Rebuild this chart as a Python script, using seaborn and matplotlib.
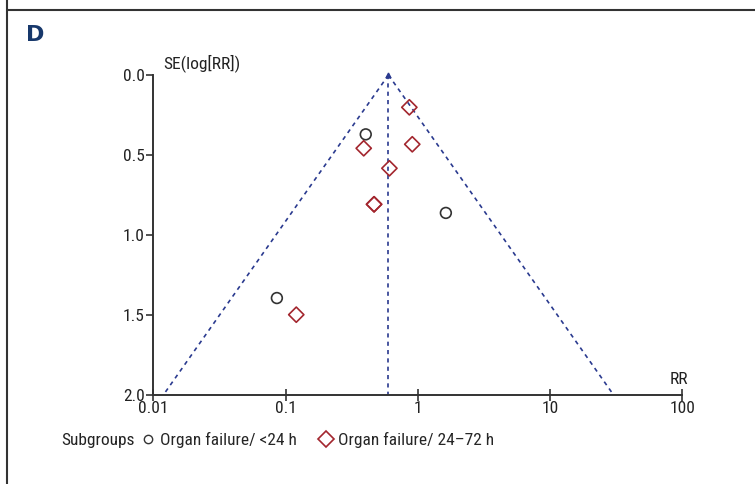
import numpy as np
import pandas as pd
import matplotlib
matplotlib.use("Agg")
import matplotlib.pyplot as plt
from matplotlib.lines import Line2D
from matplotlib import font_manager as fm
import seaborn as sns

# ---- data ----
groups = ["Organ failure/ <24 h", "Organ failure/ 24\u201372 h"]
rr_lt24 = [0.404, 1.63, 0.086]
se_lt24 = [0.371, 0.862, 1.394]
rr_24_72 = [0.863, 0.908, 0.390, 0.610, 0.467, 0.467, 0.1205]
se_24_72 = [0.202, 0.433, 0.458, 0.583, 0.808, 0.808, 1.498]
pooled_rr = 0.60
x_ticks = [0.01, 0.1, 1, 10, 100]
x_ticklabels = ["0.01", "0.1", "1", "10", "100"]
y_ticks = [0.0, 0.5, 1.0, 1.5, 2.0]
y_ticklabels = ["0.0", "0.5", "1.0", "1.5", "2.0"]

df = pd.DataFrame({
    "RR": rr_lt24 + rr_24_72,
    "SE": se_lt24 + se_24_72,
    "Subgroup": [groups[0]] * len(rr_lt24) + [groups[1]] * len(rr_24_72),
})

sns.set_theme(style="white")


# ---- pick a condensed sans font if one is installed ----
def _is_condensed(f):
    st = f.stretch
    if isinstance(st, str):
        return st in ("condensed", "semi-condensed")
    try:
        return int(st) <= 500 and int(st) >= 300
    except Exception:
        return False


font_family = "Liberation Sans"
font_stretch = "normal"
pref = ["Liberation Sans Narrow", "Roboto Condensed", "Open Sans Condensed",
        "Noto Sans Condensed", "DejaVu Sans Condensed"]
names = {f.name for f in fm.fontManager.ttflist}
found = False
for p in pref:
    if p in names:
        font_family, found = p, True
        break
if not found:
    for base in ["Noto Sans", "Open Sans", "DejaVu Sans", "Roboto", "Lato", "Liberation Sans"]:
        ents = [f for f in fm.fontManager.ttflist
                if f.name == base and _is_condensed(f) and f.style == "normal"
                and str(f.weight) in ("400", "normal", "regular", "book")]
        if ents:
            font_family, font_stretch, found = base, ents[0].stretch, True
            break

plt.rcParams["font.family"] = [font_family, "DejaVu Sans"]
plt.rcParams["font.stretch"] = font_stretch
fs = 12.5 if found else 11

W, H = 755, 484
fig = plt.figure(figsize=(W / 100, H / 100), dpi=100)
ax = fig.add_axes([153.3 / W, 1 - 395 / H, (682.3 - 153.3) / W, 320 / H])

navy = "#2a3a8f"
red = "#a3262e"
dark = "#333333"
txt = "#222222"

# funnel lines
se_line = np.array([0.0, 2.0])
dash = (0, (2.5, 2.5))
ax.plot(pooled_rr * np.exp(-1.96 * se_line), se_line, ls=dash, color=navy, lw=1.2, zorder=1)
ax.plot(pooled_rr * np.exp(1.96 * se_line), se_line, ls=dash, color=navy, lw=1.2, zorder=1)
ax.plot([pooled_rr, pooled_rr], [0, 2.0], ls=dash, color=navy, lw=1.2, zorder=1)
ax.plot([pooled_rr], [0.0], marker="^", ms=3.5, color=navy, clip_on=False, zorder=2)

sns.scatterplot(data=df, x="RR", y="SE", hue="Subgroup", style="Subgroup",
                palette={groups[0]: dark, groups[1]: red},
                markers={groups[0]: "o", groups[1]: "D"},
                s=60, linewidth=1.2, ax=ax, legend=False, zorder=3)
for coll in ax.collections:
    fc = coll.get_facecolors()
    coll.set_edgecolors(fc)
    coll.set_facecolor("none")

ax.set_xscale("log")
ax.set_xlim(0.01, 100)
ax.set_ylim(2.0, 0.0)
ax.set_xticks(x_ticks)
ax.set_xticklabels(x_ticklabels)
ax.set_yticks(y_ticks)
ax.set_yticklabels(y_ticklabels)
ax.minorticks_off()
ax.set_xlabel("")
ax.set_ylabel("")

for s in ["top", "right"]:
    ax.spines[s].set_visible(False)
for s in ["left", "bottom"]:
    ax.spines[s].set_color(dark)
    ax.spines[s].set_linewidth(1.4)
ax.tick_params(axis="x", direction="inout", length=9, width=1.2, color=dark, labelsize=fs, labelcolor=txt, pad=0)
ax.tick_params(axis="y", direction="out", length=5, width=1.2, color=dark, labelsize=fs, labelcolor=txt, pad=1)
ax.tick_params(axis="both", which="both", bottom=True, left=True)

ax.text(0.018, 1.0375, "SE(log[RR])", transform=ax.transAxes, ha="left", va="center", fontsize=fs, color=txt)
ax.text(1.011, 0.047, "RR", transform=ax.transAxes, ha="right", va="center", fontsize=fs, color=txt)

# panel frame and letter
fig.add_artist(Line2D([7 / W, 1], [1 - 10 / H, 1 - 10 / H], color=dark, lw=1.5))
fig.add_artist(Line2D([7 / W, 7 / W], [0, 1], color=dark, lw=1.5))
fig.text(26 / W, 1 - 35 / H, "D", fontsize=16, fontweight="bold", color="#17386b", ha="left", va="center",
         family=["DejaVu Sans"], fontstretch="normal")

# legend
sub = fig.text(61 / W, 1 - 440 / H, "Subgroups", fontsize=fs, color=txt, ha="left", va="center")
fig.canvas.draw()
bb = sub.get_window_extent(renderer=fig.canvas.get_renderer())
handles = [Line2D([], [], ls="none", marker="o", ms=6, mfc="none", mec=dark, mew=1.0),
           Line2D([], [], ls="none", marker="D", ms=8.5, mfc="none", mec=red, mew=1.2)]
fig.legend(handles, groups, loc="center left", bbox_to_anchor=((bb.x1 + 6) / W, 1 - 440 / H), ncol=2,
           frameon=False, handlelength=0.9, handletextpad=0.25, columnspacing=1.2,
           fontsize=fs, borderpad=0, borderaxespad=0)

fig.savefig("out.png", dpi=100)
